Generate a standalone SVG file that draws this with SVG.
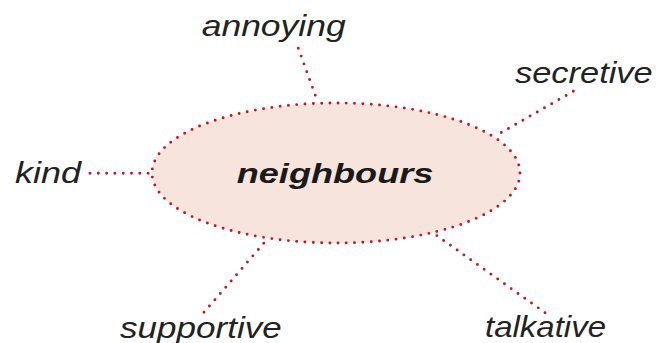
<svg xmlns="http://www.w3.org/2000/svg" width="667" height="343" viewBox="0 0 667 343">
<style>
.dot{fill:none;stroke:#bd1529;stroke-width:2.9;stroke-linecap:round;stroke-dasharray:0 8.3}
.lbl{font-family:"Liberation Sans",Arial,sans-serif;font-style:italic;font-size:29px;fill:#222222}
.main{font-family:"Liberation Sans",Arial,sans-serif;font-style:italic;font-weight:bold;font-size:28px;fill:#1a1a1a}
</style>
<rect width="667" height="343" fill="#ffffff"/>
<g id="connectors">
<line class="dot" x1="298.3" y1="48.3" x2="317" y2="100"/>
<line class="dot" x1="573.3" y1="91.3" x2="497" y2="135"/>
<line class="dot" x1="90" y1="173.3" x2="152" y2="173.3"/>
<line class="dot" x1="204" y1="312.3" x2="264" y2="243"/>
<line class="dot" x1="545" y1="312.7" x2="436" y2="235"/>
</g>
<g id="neighbours">
<ellipse cx="336" cy="173" rx="184" ry="70" class="dot" style="fill:#f7e5dd"/>
<text class="main" x="236.7" y="183.3" textLength="196.7" lengthAdjust="spacingAndGlyphs">neighbours</text>
</g>
<g id="annoying"><text class="lbl" x="201.7" y="36" textLength="144" lengthAdjust="spacingAndGlyphs">annoying</text></g>
<g id="secretive"><text class="lbl" x="515" y="83.3" textLength="137.7" lengthAdjust="spacingAndGlyphs">secretive</text></g>
<g id="kind"><text class="lbl" x="15" y="182.7" textLength="66" lengthAdjust="spacingAndGlyphs">kind</text></g>
<g id="supportive"><text class="lbl" x="120" y="338.3" textLength="161.7" lengthAdjust="spacingAndGlyphs">supportive</text></g>
<g id="talkative"><text class="lbl" x="485" y="337.3" textLength="121" lengthAdjust="spacingAndGlyphs">talkative</text></g>
</svg>
